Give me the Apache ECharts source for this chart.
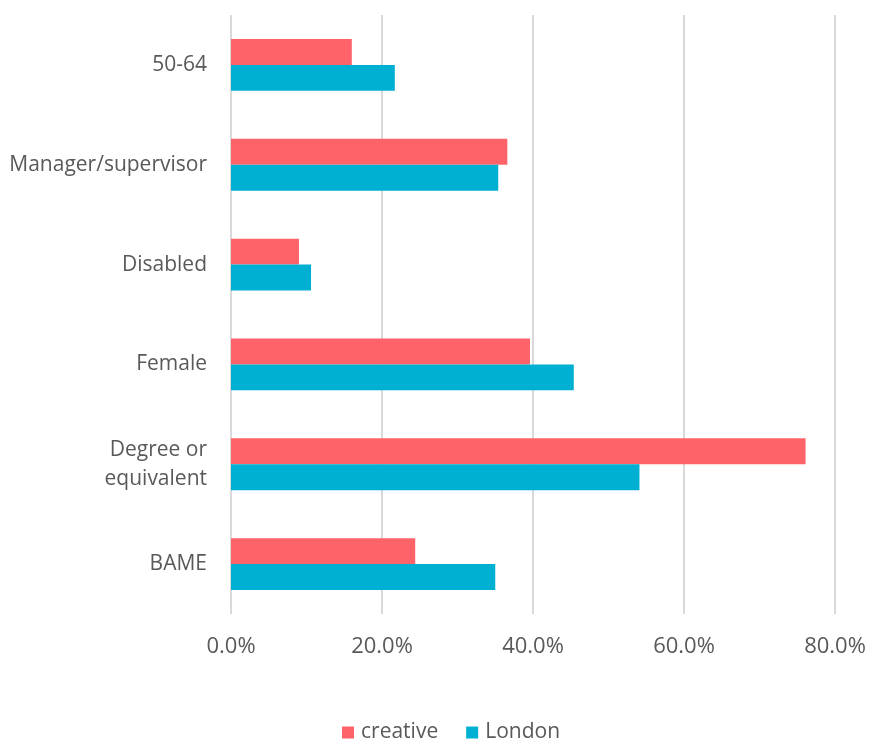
<!DOCTYPE html>
<html>
<head>
<meta charset="utf-8">
<script src="https://cdn.jsdelivr.net/npm/echarts@6/dist/echarts.min.js"></script>
<style>
  html, body { margin: 0; padding: 0; background: #fff; }
  #chart { width: 869px; height: 743px; }
</style>
</head>
<body>
<div id="chart"></div>
<script>
// Workforce profile: creative sector vs London overall (share of workers)
const categories = ['50-64', 'Manager/supervisor', 'Disabled', 'Female', 'Degree or\nequivalent', 'BAME'];
const creative = [0.160, 0.366, 0.090, 0.396, 0.761, 0.244];
const london   = [0.217, 0.354, 0.106, 0.454, 0.541, 0.350];
const xTicks = { min: 0, max: 0.8, step: 0.2 };

const FONT = '"Open Sans", Lato, sans-serif';
const TEXT = '#595959';

const chart = echarts.init(document.getElementById('chart'), null, { renderer: 'canvas' });
chart.setOption({
  animation: false,
  textStyle: { fontFamily: FONT, color: TEXT },
  grid: { left: 231, right: 34, top: 15, bottom: 129, containLabel: false },
  legend: {
    bottom: -5,
    left: 337,
    icon: 'rect',
    itemWidth: 12,
    itemHeight: 12,
    itemGap: 28,
    textStyle: { fontFamily: FONT, fontSize: 21, color: TEXT, padding: [0, 0, 0, 2] },
    data: ['creative', 'London']
  },
  xAxis: {
    type: 'value',
    min: xTicks.min,
    max: xTicks.max,
    interval: xTicks.step,
    axisLine: { show: false },
    axisTick: { show: false },
    splitLine: { show: true, lineStyle: { color: '#D9D9D9', width: 2 } },
    axisLabel: {
      margin: 22,
      fontFamily: FONT,
      fontSize: 22,
      color: TEXT,
      formatter: v => (v * 100).toFixed(1) + '%'
    }
  },
  yAxis: {
    type: 'category',
    inverse: true,
    data: categories,
    axisLine: { show: false },
    axisTick: { show: false },
    axisLabel: {
      margin: 24,
      fontFamily: FONT,
      fontSize: 21,
      color: TEXT,
      lineHeight: 29,
      align: 'right'
    }
  },
  series: [
    {
      name: 'creative',
      type: 'bar',
      data: creative,
      barGap: '0%',
      barCategoryGap: '48%',
      itemStyle: { color: '#FF636A' }
    },
    {
      name: 'London',
      type: 'bar',
      data: london,
      barGap: '0%',
      barCategoryGap: '48%',
      itemStyle: { color: '#00B0D2' }
    }
  ]
});
</script>
</body>
</html>
